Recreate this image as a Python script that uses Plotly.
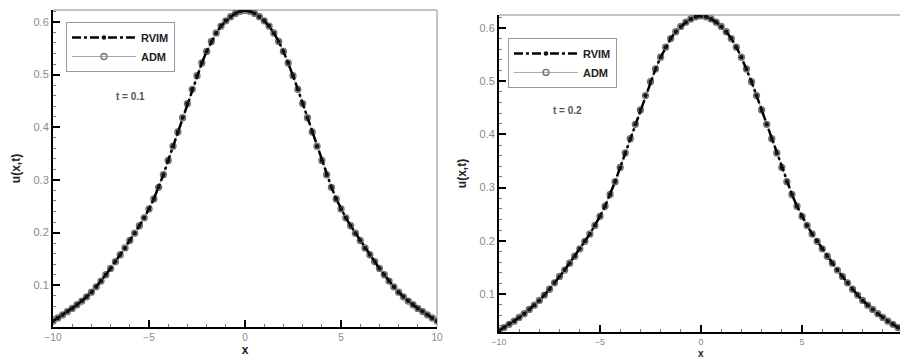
import plotly.graph_objects as go

# ---------------- data ----------------
x_vals = [-10, -9.75, -9.5, -9.25, -9, -8.75, -8.5, -8.25, -8, -7.75, -7.5, -7.25, -7, -6.75, -6.5, -6.25,
          -6, -5.75, -5.5, -5.25, -5, -4.75, -4.5, -4.25, -4, -3.75, -3.5, -3.25, -3, -2.75, -2.5, -2.25,
          -2, -1.75, -1.5, -1.25, -1, -0.75, -0.5, -0.25, 0, 0.25, 0.5, 0.75, 1, 1.25, 1.5, 1.75,
          2, 2.25, 2.5, 2.75, 3, 3.25, 3.5, 3.75, 4, 4.25, 4.5, 4.75, 5, 5.25, 5.5, 5.75,
          6, 6.25, 6.5, 6.75, 7, 7.25, 7.5, 7.75, 8, 8.25, 8.5, 8.75, 9, 9.25, 9.5, 9.75, 10]

u_rvim_t01 = [0.032, 0.038, 0.044, 0.050, 0.056, 0.063, 0.070, 0.078, 0.087, 0.097, 0.108, 0.120, 0.132, 0.145,
              0.158, 0.171, 0.185, 0.199, 0.213, 0.228, 0.245, 0.264, 0.286, 0.310, 0.337, 0.364, 0.391, 0.418,
              0.445, 0.472, 0.498, 0.522, 0.544, 0.563, 0.579, 0.592, 0.602, 0.610, 0.616, 0.620, 0.622,
              0.620, 0.616, 0.610, 0.602, 0.592, 0.579, 0.563, 0.544, 0.522, 0.498, 0.472, 0.445, 0.418,
              0.391, 0.364, 0.337, 0.310, 0.286, 0.264, 0.245, 0.228, 0.213, 0.199, 0.185, 0.171, 0.158,
              0.145, 0.132, 0.120, 0.108, 0.097, 0.087, 0.078, 0.070, 0.063, 0.056, 0.050, 0.044, 0.038, 0.032]

u_adm_t01 = [0.032, 0.038, 0.044, 0.050, 0.056, 0.063, 0.070, 0.078, 0.087, 0.097, 0.108, 0.120, 0.132, 0.145,
             0.158, 0.171, 0.185, 0.199, 0.213, 0.228, 0.245, 0.264, 0.286, 0.310, 0.337, 0.364, 0.391, 0.418,
             0.445, 0.472, 0.498, 0.522, 0.544, 0.563, 0.579, 0.592, 0.602, 0.610, 0.616, 0.620, 0.622,
             0.620, 0.616, 0.610, 0.602, 0.592, 0.579, 0.563, 0.544, 0.522, 0.498, 0.472, 0.445, 0.418,
             0.391, 0.364, 0.337, 0.310, 0.286, 0.264, 0.245, 0.228, 0.213, 0.199, 0.185, 0.171, 0.158,
             0.145, 0.132, 0.120, 0.108, 0.097, 0.087, 0.078, 0.070, 0.063, 0.056, 0.050, 0.044, 0.038, 0.032]

u_rvim_t02 = [0.031, 0.037, 0.043, 0.049, 0.056, 0.063, 0.071, 0.079, 0.088, 0.098, 0.109, 0.121, 0.133, 0.145,
              0.158, 0.171, 0.185, 0.199, 0.213, 0.229, 0.246, 0.265, 0.287, 0.311, 0.338, 0.365, 0.392, 0.419,
              0.446, 0.473, 0.499, 0.523, 0.545, 0.564, 0.580, 0.593, 0.603, 0.611, 0.617, 0.621, 0.623,
              0.621, 0.617, 0.611, 0.603, 0.593, 0.580, 0.564, 0.545, 0.523, 0.499, 0.473, 0.446, 0.419,
              0.392, 0.365, 0.338, 0.311, 0.287, 0.265, 0.246, 0.229, 0.213, 0.199, 0.185, 0.171, 0.158,
              0.145, 0.133, 0.121, 0.109, 0.098, 0.088, 0.079, 0.071, 0.063, 0.056, 0.049, 0.043, 0.037, 0.031]

u_adm_t02 = [0.031, 0.037, 0.043, 0.049, 0.056, 0.063, 0.071, 0.079, 0.088, 0.098, 0.109, 0.121, 0.133, 0.145,
             0.158, 0.171, 0.185, 0.199, 0.213, 0.229, 0.246, 0.265, 0.287, 0.311, 0.338, 0.365, 0.392, 0.419,
             0.446, 0.473, 0.499, 0.523, 0.545, 0.564, 0.580, 0.593, 0.603, 0.611, 0.617, 0.621, 0.623,
             0.621, 0.617, 0.611, 0.603, 0.593, 0.580, 0.564, 0.545, 0.523, 0.499, 0.473, 0.446, 0.419,
             0.392, 0.365, 0.338, 0.311, 0.287, 0.265, 0.246, 0.229, 0.213, 0.199, 0.185, 0.171, 0.158,
             0.145, 0.133, 0.121, 0.109, 0.098, 0.088, 0.079, 0.071, 0.063, 0.056, 0.049, 0.043, 0.037, 0.031]

x_ticks = [-10, -5, 0, 5, 10]
y_ticks = [0.1, 0.2, 0.3, 0.4, 0.5, 0.6]
series_names = ["RVIM", "ADM"]
panel_labels = ["t = 0.1", "t = 0.2"]

# ---------------- figure ----------------
FONT = "Liberation Sans, Arial, sans-serif"
fig = go.Figure()

panels = [
    ("x", "y", "legend", u_rvim_t01, u_adm_t01),
    ("x2", "y2", "legend2", u_rvim_t02, u_adm_t02),
]
for xa, ya, lg, u_r, u_a in panels:
    fig.add_trace(go.Scatter(
        x=x_vals, y=u_a, name="<b>%s</b>" % series_names[1], xaxis=xa, yaxis=ya, legend=lg,
        legendrank=2, mode="lines+markers",
        line=dict(color="#a8a8a8", width=1),
        marker=dict(symbol="circle-open", size=6, color="#707070", line=dict(width=1.3)),
    ))
    fig.add_trace(go.Scatter(
        x=x_vals, y=u_r, name="<b>%s</b>" % series_names[0], xaxis=xa, yaxis=ya, legend=lg,
        legendrank=1, mode="lines+markers",
        line=dict(color="black", width=2.5, dash="dashdot"),
        marker=dict(symbol="circle", size=4.5, color="#111111"),
    ))

ytickfont = dict(family=FONT, size=11, color="#8a8a8a")
xtickfont = dict(family=FONT, size=10, color="#8a8a8a")
xtitle_font = dict(family=FONT, size=12, color="#222")

def xaxis_cfg(domain, rng, anchor, title, tfont):
    return dict(
        domain=domain, range=rng, anchor=anchor, tickvals=x_ticks, automargin=False,
        ticks="inside", ticklen=7, tickwidth=2, tickcolor="black",
        minor=dict(dtick=1, ticks="inside", ticklen=3, tickwidth=1, tickcolor="#777"),
        showline=True, linecolor="black", linewidth=2, mirror=False,
        showgrid=False, zeroline=False, tickfont=tfont,
        title=dict(text=title, font=xtitle_font, standoff=3),
    )

def yaxis_cfg(domain, rng, anchor):
    return dict(
        domain=domain, range=rng, anchor=anchor, tickvals=y_ticks, tickformat=".1f", automargin=False,
        ticks="inside", ticklen=7, tickwidth=2, tickcolor="black",
        minor=dict(dtick=0.02, tick0=0, ticks="inside", ticklen=3, tickwidth=1, tickcolor="#777"),
        showline=True, linecolor="black", linewidth=2, mirror=False,
        showgrid=False, zeroline=False, tickfont=ytickfont,
        title=dict(text="<b>u(x,t)</b>", font=dict(family=FONT, size=12, color="#222"), standoff=10),
    )

legend_common = dict(
    xanchor="left", yanchor="top", bgcolor="white", bordercolor="#9a9a9a", borderwidth=1,
    font=dict(family=FONT, size=11, color="#222"), tracegroupgap=0, itemwidth=64,
)

fig.update_layout(
    width=900, height=358, margin=dict(l=0, r=0, t=0, b=0),
    paper_bgcolor="white", plot_bgcolor="white",
    font=dict(family=FONT),
    xaxis=xaxis_cfg([0.0589, 0.4856], [-10, 10], "y", "<b>x</b>", xtickfont),
    yaxis=yaxis_cfg([0.0866, 0.9721], [0.0208, 0.6226], "x"),
    xaxis2=xaxis_cfg([0.5544, 1.0], [-10, 9.85], "y2", "", dict(family=FONT, size=9, color="#8a8a8a")),
    yaxis2=yaxis_cfg([0.0726, 0.9581], [0.0286, 0.6244], "x2"),
    legend=dict(x=0.0733, y=0.9385, **legend_common),
    legend2=dict(x=0.5644, y=0.894, **legend_common),
    showlegend=True,
)

# right panel x label sits at the very bottom edge
fig.add_annotation(text="<b>x</b>", xref="x2", yref="paper", x=0, y=0, xanchor="center", yanchor="bottom",
                   yshift=-2, borderpad=0, showarrow=False, font=dict(family=FONT, size=10, color="#222"))

# light grey frame lines (top / right)
frame = dict(color="#c4c4c4", width=2)
fig.add_shape(type="line", xref="x domain", yref="y domain", x0=0, x1=1, y0=1, y1=1, line=frame, layer="below")
fig.add_shape(type="line", xref="x domain", yref="y domain", x0=1, x1=1, y0=0, y1=1, line=frame, layer="below")
fig.add_shape(type="line", xref="x2 domain", yref="y2 domain", x0=0, x1=1, y0=1, y1=1, line=frame, layer="below")

# time labels
fig.add_annotation(text="<b>%s</b>" % panel_labels[0], xref="paper", yref="paper", x=0.1267, y=0.7514,
                   showarrow=False, font=dict(family=FONT, size=10, color="#555"))
fig.add_annotation(text="<b>%s</b>" % panel_labels[1], xref="paper", yref="paper", x=0.6311, y=0.7123,
                   showarrow=False, font=dict(family=FONT, size=10, color="#555"))

fig.write_html("out.html")
